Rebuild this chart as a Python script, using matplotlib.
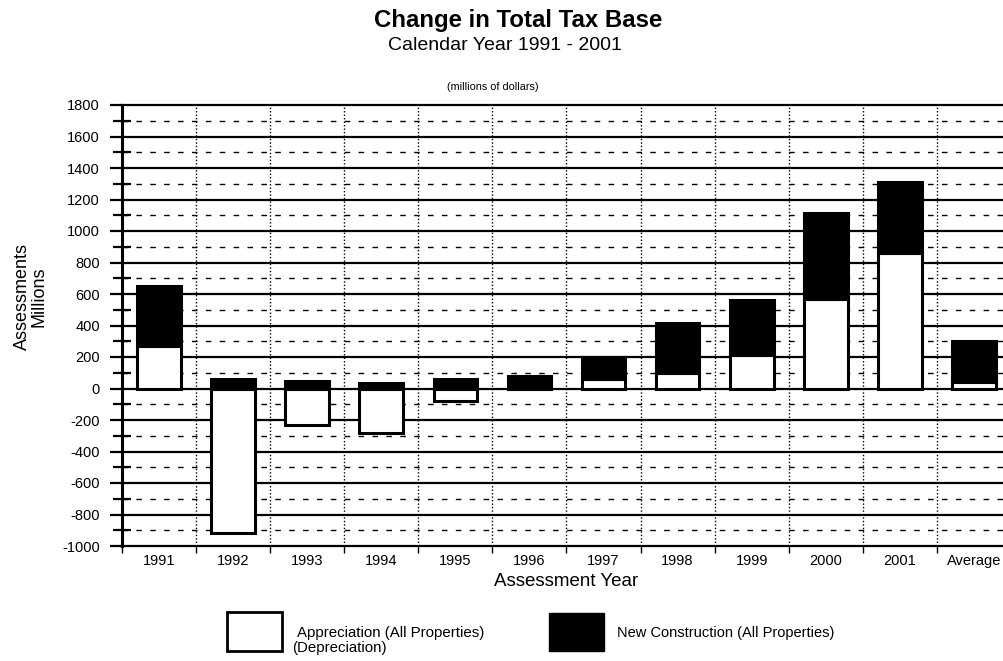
import matplotlib
matplotlib.use("Agg")
import matplotlib.pyplot as plt
from matplotlib.patches import Rectangle
import numpy as np

plt.rcParams['font.family'] = ['Liberation Sans', 'DejaVu Sans']

years = ['1991', '1992', '1993', '1994', '1995', '1996', '1997', '1998',
         '1999', '2000', '2001', 'Average']
appreciation = [270, -920, -230, -280, -80, 0, 60, 100, 210, 570, 860, 40]
new_construction = [380, 60, 50, 35, 60, 80, 140, 315, 350, 545, 450, 260]
y_major = list(range(-1000, 1801, 200))
y_minor = list(range(-900, 1800, 200))

fig = plt.figure(figsize=(10.04, 6.61), dpi=100)
ax = fig.add_axes([122/1004, (661-546)/661, 889/1004, 441/661])

x = np.arange(len(years)) + 0.5
width = 0.59
appr = np.array(appreciation)
nc = np.array(new_construction)
nc_bottom = np.where(appr > 0, appr, 0)

ax.bar(x, appr, width=width, bottom=0, color='white', edgecolor='black',
       linewidth=2.2, zorder=3)
ax.bar(x, nc, width=width, bottom=nc_bottom, color='black', edgecolor='black',
       linewidth=2.2, zorder=3)

ax.set_xlim(0, len(years))
ax.set_ylim(-1000, 1800)

# grid lines
for v in y_major:
    ax.axhline(v, color='black', lw=1.6, zorder=1, clip_on=False)
for v in y_minor:
    ax.axhline(v, color='black', lw=1.0, ls=(0, (4, 6)), zorder=1)
for b in range(1, len(years)):
    ax.axvline(b, color='black', lw=1.0, ls=(0, (1, 1.5)), zorder=1)

for s in ['top', 'right', 'bottom']:
    ax.spines[s].set_visible(False)
ax.spines['left'].set_linewidth(2.2)
ax.spines['left'].set_zorder(4)

ax.set_yticks(y_major)
ax.set_yticklabels([str(v) for v in y_major], fontsize=10.5)
ax.set_yticks(y_minor, minor=True)
ax.tick_params(axis='y', which='major', length=9, width=1.6, pad=7, direction='out')
ax.tick_params(axis='y', which='minor', length=13, width=1.6, direction='inout')

ax.set_xticks(x)
ax.set_xticklabels(years, fontsize=10.5)
ax.set_xticks(np.arange(0, len(years)), minor=True)
ax.tick_params(axis='x', which='major', length=0, pad=6)
ax.tick_params(axis='x', which='minor', length=5, width=1.0, direction='out')

fig.text(518/1004, 1-20/661, 'Change in Total Tax Base', ha='center', va='center',
         fontsize=17.3, fontweight='bold')
fig.text(505/1004, 1-45/661, 'Calendar Year 1991 - 2001', ha='center', va='center',
         fontsize=14)
fig.text(493/1004, 1-87/661, '(millions of dollars)', ha='center', va='center',
         fontsize=7.8)
fig.text(566/1004, 1-581/661, 'Assessment Year', ha='center', va='center',
         fontsize=13.5)
fig.text(31/1004, 1-297/661, 'Assessments\nMillions', ha='center', va='center',
         rotation=90, fontsize=13, linespacing=1.0)

# legend
fig.patches.append(Rectangle((227/1004, (661-651)/661), 55/1004, 39/661,
                             transform=fig.transFigure, facecolor='white',
                             edgecolor='black', linewidth=2.0))
fig.patches.append(Rectangle((549/1004, (661-651)/661), 55/1004, 38/661,
                             transform=fig.transFigure, facecolor='black',
                             edgecolor='black', linewidth=1.0))
fig.text(297/1004, 1-633/661, 'Appreciation (All Properties)', ha='left',
         va='center', fontsize=10.8)
fig.text(292/1004, 1-648/661, '(Depreciation)', ha='left', va='center', fontsize=10.8)
fig.text(617/1004, 1-633/661, 'New Construction (All Properties)', ha='left',
         va='center', fontsize=10.5)

fig.savefig('out.png', dpi=100)
